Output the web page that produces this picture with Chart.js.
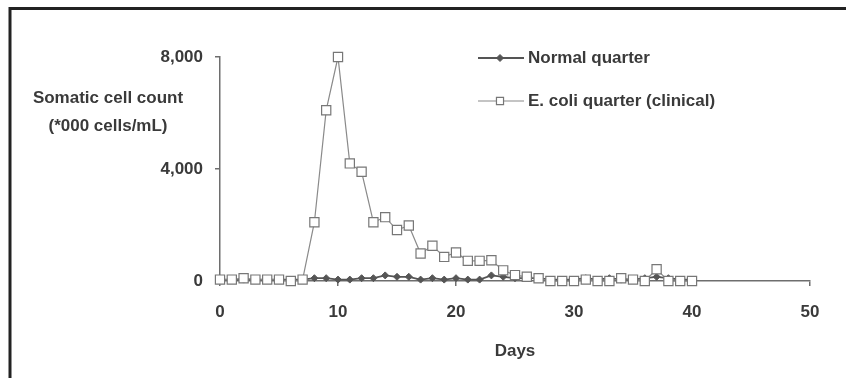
<!DOCTYPE html>
<html>
<head>
<meta charset="utf-8">
<script src="https://cdn.jsdelivr.net/npm/chart.js@4/dist/chart.umd.min.js"></script>
<style>
  html, body { margin: 0; padding: 0; background: #fff; }
  #wrap { width: 846px; height: 378px; position: relative; }
</style>
</head>
<body>
<div id="wrap"><canvas id="c" width="846" height="378"></canvas></div>
<script>
// ---- data ----
const days = [0,1,2,3,4,5,6,7,8,9,10,11,12,13,14,15,16,17,18,19,20,21,22,23,24,25,26,27,28,29,30,31,32,33,34,35,36,37,38,39,40];
const normalQuarter = [50,50,50,50,50,50,50,50,100,100,50,50,100,100,200,150,150,50,100,50,100,50,50,200,150,100,100,100,50,50,50,100,50,100,50,50,100,150,100,50,50];
const ecoliQuarter = [50,50,100,50,50,50,0,50,2100,6100,8000,4200,3900,2100,2280,1820,1980,980,1260,860,1020,720,720,740,380,210,150,100,0,0,0,50,0,0,100,50,0,420,0,0,0];
const seriesNames = ["Normal quarter", "E. coli quarter (clinical)"];
const xTicks = [0,10,20,30,40,50];
const yTicks = [0,4000,8000];
const xTitle = "Days";
const yTitleLines = ["Somatic cell count", "(*000 cells/mL)"];

const FONT = "'Liberation Sans', Arial, sans-serif";
const FSIZE = 17;
const TXT = '#3a3a3a';
const AX = '#6e6e6e';

const toPts = (arr) => days.map((d, i) => ({x: d, y: arr[i]}));

const normalDs = {
  label: seriesNames[0],
  data: toPts(normalQuarter),
  borderColor: '#555',
  backgroundColor: '#555',
  borderWidth: 1.8,
  pointStyle: 'rectRot',
  pointRadius: 3.5,
  legendRadius: 3.5,
  pointBorderWidth: 1,
  pointBackgroundColor: '#555',
  pointBorderColor: '#555',
  clip: false,
  order: 2
};
const ecoliDs = {
  label: seriesNames[1],
  data: toPts(ecoliQuarter),
  borderColor: '#8a8a8a',
  backgroundColor: '#fff',
  borderWidth: 1.2,
  pointStyle: 'rect',
  pointRadius: 6.5,
  legendRadius: 5,
  pointBorderWidth: 1.2,
  pointBackgroundColor: '#fff',
  pointBorderColor: '#777',
  clip: false,
  order: 1
};

const decor = {
  id: 'legendAndFrame',
  afterDraw(chart) {
    const ctx = chart.ctx;
    ctx.save();
    ctx.strokeStyle = '#222';
    ctx.lineWidth = 3;
    ctx.beginPath();
    ctx.moveTo(10, 378); ctx.lineTo(10, 8.5); ctx.lineTo(846, 8.5);
    ctx.stroke();
    ctx.fillStyle = TXT;
    ctx.font = 'bold ' + FSIZE + 'px ' + FONT;
    ctx.textAlign = 'center';
    ctx.textBaseline = 'middle';
    ctx.fillText(yTitleLines[0], 108, 98);
    ctx.fillText(yTitleLines[1], 108, 126);
    const ys = [58, 101];
    chart.data.datasets.forEach((ds, i) => {
      const y = ys[i];
      ctx.strokeStyle = ds.borderColor;
      ctx.lineWidth = ds.borderWidth;
      ctx.beginPath(); ctx.moveTo(478, y); ctx.lineTo(524, y); ctx.stroke();
      ctx.fillStyle = ds.pointBackgroundColor;
      ctx.strokeStyle = ds.pointBorderColor;
      ctx.lineWidth = ds.pointBorderWidth;
      Chart.helpers.drawPoint(ctx, { pointStyle: ds.pointStyle, radius: ds.legendRadius, borderWidth: ds.pointBorderWidth, rotation: 0 }, 500, y);
      ctx.fillStyle = TXT;
      ctx.textAlign = 'left';
      ctx.fillText(seriesNames[i], 528, y);
    });
    ctx.restore();
  }
};

new Chart(document.getElementById('c'), {
  type: 'line',
  data: { datasets: [normalDs, ecoliDs] },
  options: {
    responsive: false,
    animation: false,
    devicePixelRatio: 1,
    layout: { padding: { top: 57, right: 36, bottom: 0, left: 0 } },
    plugins: { legend: { display: false }, tooltip: { enabled: false } },
    elements: { line: { tension: 0 } },
    scales: {
      x: {
        type: 'linear', min: 0, max: 50,
        afterBuildTicks: (s) => { s.ticks = xTicks.map(v => ({value: v})); },
        afterFit: (s) => { s.height = 97; },
        grid: { drawOnChartArea: false, drawTicks: true, tickLength: 5, color: AX, tickColor: AX, lineWidth: 1.5 },
        border: { display: true, color: AX, width: 1.5 },
        ticks: { color: TXT, font: { family: FONT, size: FSIZE, weight: 'bold' }, padding: 16, maxRotation: 0 },
        title: { display: true, text: xTitle, color: TXT, font: { family: FONT, size: FSIZE, weight: 'bold' }, padding: { top: 0, bottom: 16 } }
      },
      y: {
        type: 'linear', min: 0, max: 8000,
        afterBuildTicks: (s) => { s.ticks = yTicks.map(v => ({value: v})); },
        afterFit: (s) => { s.width = 220; },
        grid: { drawOnChartArea: false, drawTicks: true, tickLength: 5, color: AX, tickColor: AX, lineWidth: 1.5 },
        border: { display: true, color: AX, width: 1.5 },
        ticks: { color: TXT, font: { family: FONT, size: FSIZE, weight: 'bold' }, padding: 12,
          callback: (v) => v.toLocaleString('en-US') }
      }
    }
  },
  plugins: [decor]
});
</script>
</body>
</html>
